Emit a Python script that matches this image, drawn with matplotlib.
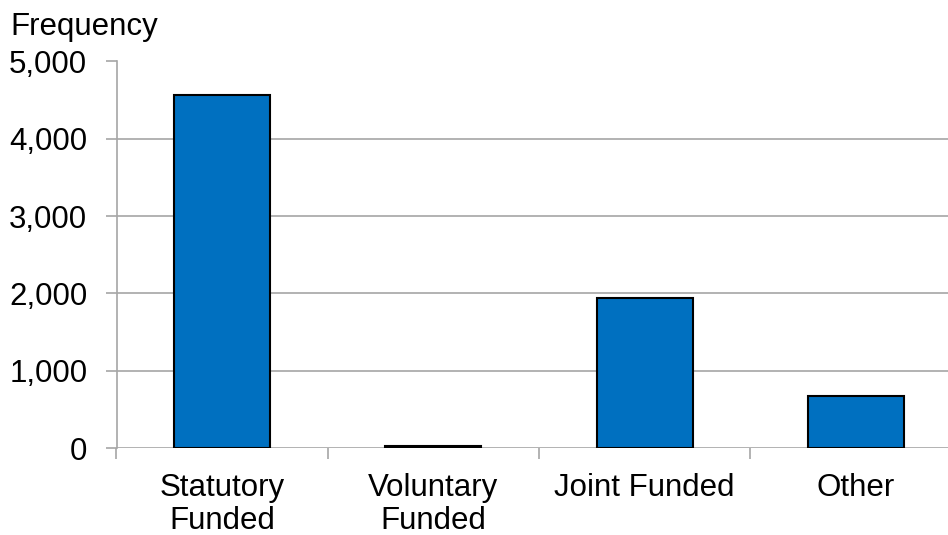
import numpy as np
import matplotlib.pyplot as plt

plt.rcParams['font.family'] = ['Liberation Sans', 'DejaVu Sans']

# Funding type counts
categories = ['Statutory\nFunded', 'Voluntary\nFunded', 'Joint Funded', 'Other']
counts = [4565, 30, 1940, 673]
y_ticks = [0, 1000, 2000, 3000, 4000, 5000]

fig = plt.figure(figsize=(9.48, 5.35), dpi=100)
ax = fig.add_axes([116.5 / 948, 87 / 535, 845 / 948, 386.5 / 535])

x = np.arange(len(categories))
ax.bar(x, counts, width=0.455, color='#0070C0', edgecolor='black',
       linewidth=1.5, zorder=3)

ax.set_xlim(-0.5, len(categories) - 0.5)
ax.set_ylim(0, 5000)
ax.set_yticks(y_ticks)
ax.set_yticklabels([f'{v:,}' for v in y_ticks])
ax.yaxis.grid(True, color='#A6A6A6', linewidth=1.2, zorder=0)

# category labels sit between the boundary ticks
ax.set_xticks(np.arange(-0.5, len(categories)), minor=False)
ax.set_xticklabels([])
ax.set_xticks(x, minor=True)
ax.set_xticklabels(categories, minor=True, fontsize=22.5, linespacing=1.15)
ax.tick_params(axis='x', which='minor', length=0, pad=18)
ax.tick_params(axis='x', which='major', length=8, width=1.2, color='#A6A6A6')
ax.tick_params(axis='y', length=8, width=1.2, color='#A6A6A6',
               labelsize=22.5, pad=13)

for side in ['top', 'right', 'bottom']:
    ax.spines[side].set_visible(False)
ax.spines['left'].set_color('#A6A6A6')
ax.spines['left'].set_linewidth(1.2)

fig.text(10 / 948, 1 - 35 / 535, 'Frequency', fontsize=22.5, va='baseline')

fig.savefig('out.png', dpi=100)
